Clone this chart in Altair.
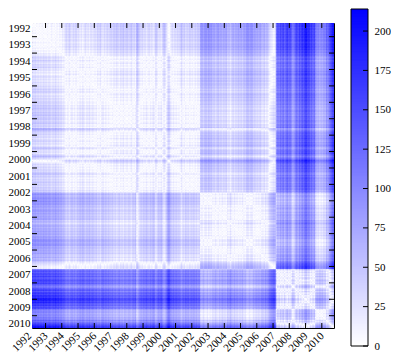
import altair as alt
import numpy as np
import pandas as pd

alt.data_transformers.disable_max_rows()

# ---- data: one value per month, March 1992 .. September 2010 ----
FIRST_YEAR = 1992
FIRST_MONTH = 3
years = list(range(1992, 2011))

v1992 = [5, 12, 6, 16, 9, 18, 10, 20, 8, 15]
v1993 = [12, 22, 10, 18, 26, 14, 20, 8, 24, 16, 28, 20]
v1994 = [34, 28, 44, 52, 40, 58, 46, 36, 50, 42, 55, 38]
v1995 = [44, 30, 40, 26, 38, 48, 34, 42, 30, 46, 36, 40]
v1996 = [48, 40, 56, 46, 60, 42, 36, 50, 40, 54, 44, 52]
v1997 = [56, 48, 62, 54, 66, 58, 50, 64, 56, 68, 52, 60]
v1998 = [62, 50, 58, 66, 48, 56, 44, 92, 70, 58, 46, 54]
v1999 = [42, 50, 36, 46, 54, 40, 48, 34, 44, 70, 52, 40]
v2000 = [46, 36, 54, 74, 58, 40, 8, 14, 34, 48, 38, 50]
v2001 = [42, 52, 46, 58, 72, 50, 60, 44, 54, 48, 62, 50]
v2002 = [56, 46, 60, 50, 64, 54, 98, 108, 92, 104, 110, 96]
v2003 = [112, 100, 106, 90, 98, 84, 94, 102, 86, 96, 82, 92]
v2004 = [88, 96, 74, 84, 66, 80, 92, 78, 90, 84, 96, 86]
v2005 = [94, 82, 100, 92, 108, 112, 98, 106, 110, 90, 98, 86]
v2006 = [92, 84, 96, 80, 76, 88, 70, 82, 64, 50, 40, 34]
v2007 = [26, 32, 140, 165, 150, 172, 158, 176, 150, 168, 182, 160]
v2008 = [175, 150, 128, 135, 162, 178, 155, 185, 170, 195, 180, 205]
v2009 = [212, 188, 200, 170, 182, 160, 175, 130, 115, 122, 108, 120]
v2010 = [112, 128, 118, 150, 138, 165, 180, 200, 214]

monthly = [v1992, v1993, v1994, v1995, v1996, v1997, v1998, v1999, v2000,
           v2001, v2002, v2003, v2004, v2005, v2006, v2007, v2008, v2009, v2010]

tick_years = years[1:]
label_years = [y + 0.5 for y in years]
cb_max = 214
cb_ticks = [0, 25, 50, 75, 100, 125, 150, 175, 200]

# ---- tables built from the arrays ----
vals = np.array([x for yr in monthly for x in yr], dtype=float)
n = len(vals)
t0 = FIRST_YEAR + (FIRST_MONTH - 1) / 12
t_end = t0 + n / 12

ii, jj = np.meshgrid(np.arange(n), np.arange(n), indexing="ij")
heat = pd.DataFrame({
    "i": ii.ravel(),
    "j": jj.ravel(),
    "d": np.round(np.abs(vals[ii] - vals[jj]).ravel(), 1),
})
ticks_df = pd.DataFrame({"yr": tick_years})
levels = np.arange(0, cb_max)
cb_df = pd.DataFrame({"v": levels, "v2": np.minimum(levels + 1.6, cb_max)})
cbt_df = pd.DataFrame({"v": cb_ticks})
cbf_df = pd.DataFrame({"v": [0], "v2": [cb_max]})

# ---- layout ----
W, H = 302, 305
CB_L, CB_R = W + 17, W + 34
FONT = "Times New Roman, Liberation Serif, serif"
FS = 11

xscale = alt.Scale(domain=[t0, t_end], nice=False, zero=False)
yscale = alt.Scale(domain=[t0, t_end], nice=False, zero=False, reverse=True)
cscale = alt.Scale(domain=[0, cb_max], range=["#ffffff", "#0000ff"],
                   interpolate="rgb", clamp=True)
cbscale = alt.Scale(domain=[0, cb_max], range=[H + 18, -14], nice=False, zero=False)

xaxis = alt.Axis(values=label_years, labelExpr="'' + floor(datum.value)",
                 ticks=False, domain=False, grid=False, title=None,
                 labelAngle=-45, labelAlign="right", labelBaseline="middle",
                 labelPadding=6, labelOffset=-8, labelOverlap=False,
                 labelBound=False, labelFlush=False,
                 labelFont=FONT, labelFontSize=FS, labelColor="black")
yaxis = alt.Axis(orient="left", values=label_years,
                 labelExpr="'' + floor(datum.value)",
                 ticks=False, domain=False, grid=False, title=None,
                 labelPadding=2, labelOverlap=False, labelFlush=False,
                 labelFont=FONT, labelFontSize=FS, labelColor="black")

heatmap = alt.Chart(heat).transform_calculate(
    x0=f"{t0} + datum.j/12",
    x1=f"{t0} + (datum.j + 1.4)/12",
    y0=f"{t0} + datum.i/12",
    y1=f"{t0} + (datum.i + 1.4)/12",
).mark_rect(clip=True).encode(
    x=alt.X("x0:Q", scale=xscale, axis=xaxis),
    x2="x1:Q",
    y=alt.Y("y0:Q", scale=yscale, axis=yaxis),
    y2="y1:Q",
    color=alt.Color("d:Q", scale=cscale, legend=None),
)

tk = alt.Chart(ticks_df).mark_rule(color="black", strokeWidth=1)
t_top = tk.encode(x=alt.X("yr:Q", scale=xscale, axis=xaxis), y=alt.value(0), y2=alt.value(5))
t_bot = tk.encode(x=alt.X("yr:Q", scale=xscale, axis=xaxis), y=alt.value(H), y2=alt.value(H - 5))
t_left = tk.encode(y=alt.Y("yr:Q", scale=yscale, axis=yaxis), x=alt.value(0), x2=alt.value(5))
t_right = tk.encode(y=alt.Y("yr:Q", scale=yscale, axis=yaxis), x=alt.value(W - 5), x2=alt.value(W))

main = alt.layer(heatmap, t_top, t_bot, t_left, t_right)

cbaxis = alt.Axis(orient="right", offset=CB_R - W, values=cb_ticks, ticks=False,
                  tickSize=0, domain=False, grid=False, title=None,
                  labelPadding=6, labelOverlap=False, labelFlush=False,
                  labelFont=FONT, labelFontSize=FS, labelColor="black")

cb_rect = alt.Chart(cb_df).mark_rect().encode(
    x=alt.value(CB_L), x2=alt.value(CB_R),
    y=alt.Y("v:Q", scale=cbscale, axis=cbaxis),
    y2="v2:Q",
    color=alt.Color("v:Q", scale=cscale, legend=None),
)
cb_tk = alt.Chart(cbt_df).mark_rule(color="black", strokeWidth=1).encode(
    y=alt.Y("v:Q", scale=cbscale, axis=cbaxis),
    x=alt.value(CB_R - 5), x2=alt.value(CB_R),
)
cb_frame = alt.Chart(cbf_df).mark_rect(fill="transparent", stroke="black", strokeWidth=1).encode(
    y=alt.Y("v:Q", scale=cbscale, axis=cbaxis), y2="v2:Q",
    x=alt.value(CB_L), x2=alt.value(CB_R),
)
colorbar = alt.layer(cb_rect, cb_tk, cb_frame)

chart = alt.layer(main, colorbar).resolve_scale(y="independent").properties(
    width=W, height=H, padding=0
).configure_view(stroke="black", strokeWidth=1)

chart.save("out.html", embed_options={"renderer": "svg", "actions": False})
